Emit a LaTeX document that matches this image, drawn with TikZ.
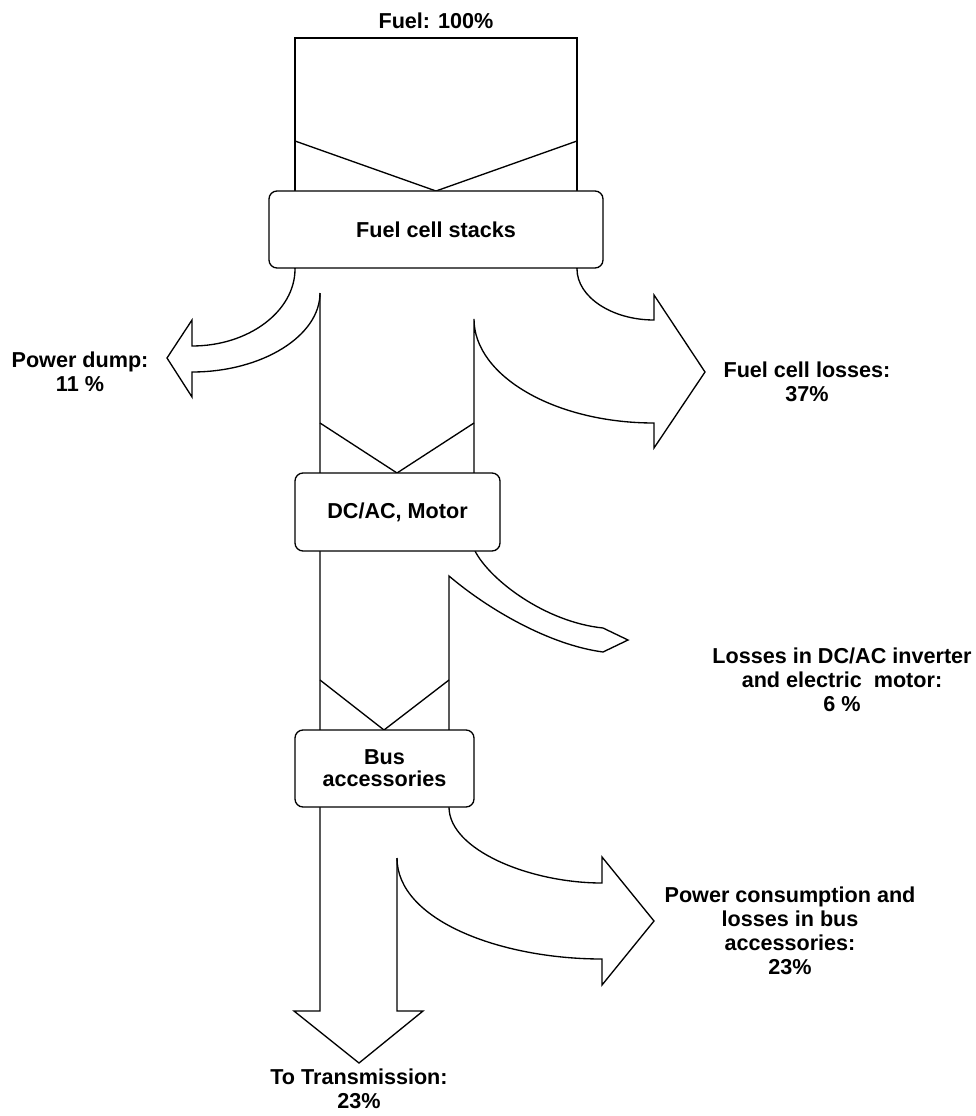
\documentclass[tikz,border=0pt]{standalone}
\usepackage{fontspec}
\setmainfont{Liberation Sans}
\usepackage{tikz}
\usetikzlibrary{positioning}

\begin{document}
\begin{tikzpicture}[
    x=0.75pt, y=-0.75pt,
    flow/.style={draw=black, line width=1pt, line join=miter},
    stage/.style={rectangle, draw=black, fill=white, rounded corners=6pt, line width=1pt, align=center, inner sep=0pt, font=\fontsize{16.2}{16.5}\selectfont\bfseries},
    tag/.style={align=center, inner sep=0pt, font=\fontsize{16.2}{18}\selectfont\bfseries}
]
\useasboundingbox (0,0) rectangle (975,1116);

% Flows
\draw[flow] (295,269) -- (295,38) -- (577,38) -- (577,269);
\draw[flow] (295,141) -- (436,191) -- (577,141);
\draw[flow] (320,423) -- (397,473) -- (474,423);
\draw[flow] (320,680) -- (384,730) -- (449,680);

% Power dump
\draw[flow] (295,269) .. controls (295,311) and (249,346) .. (192,346) -- (192,320) -- (167,358) -- (192,397) -- (192,372) .. controls (262,372) and (320,336) .. (320,293);
% To transmission
\draw[flow] (320,293) -- (320,1011) -- (294,1011) -- (359,1063) -- (423,1011) -- (397,1011) -- (397,858);
% Fuel cell losses
\draw[flow] (577,269) .. controls (577,297) and (612,320) .. (654,320) -- (654,295) -- (705,372) -- (654,448) -- (654,423) .. controls (555,423) and (474,376) .. (474,319) -- (474,473);
% Inverter and motor losses
\draw[flow] (475,551) .. controls (490,580) and (545,622) .. (603,628) -- (628,640) -- (603,652) .. controls (550,645) and (489,610) .. (449,576) -- (449,730);
% Bus accessories losses
\draw[flow] (449,807) .. controls (449,850) and (530,883) .. (602,883) -- (602,857) -- (654,921) -- (602,985) -- (602,959) .. controls (500,959) and (397,920) .. (397,858);

% Nodes
\node[stage, minimum width=250.5pt, minimum height=57.75pt] (stacks) at (436,229.5) {Fuel cell stacks};
\node[stage, minimum width=153.75pt, minimum height=58.5pt] (motor) at (397.5,512) {DC/AC, Motor};
\node[stage, minimum width=134.25pt, minimum height=57.75pt] (aux) at (384.5,768.5) {Bus\\accessories};

% Labels
\node[tag] (fuel) at (436,21) {Fuel: 100\%};
\node[tag] (dump) at (80,372) {Power dump:\\11 \%};
\node[tag] (fcloss) at (807,382) {Fuel cell losses:\\37\%};
\node[tag] (invloss) at (842,680) {Losses in DC/AC inverter\\and electric\ \ motor:\\6 \%};
\node[tag] (auxloss) at (790,931) {Power consumption and\\losses in bus\\accessories:\\23\%};
\node[tag] (trans) at (359,1089) {To Transmission:\\23\%};

\end{tikzpicture}
\end{document}
